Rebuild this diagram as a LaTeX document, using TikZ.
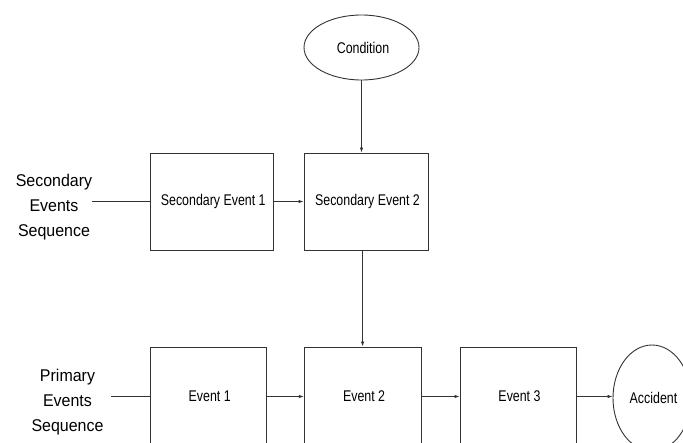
\documentclass[tikz,border=0pt]{standalone}
\usepackage{fontspec}
\usepackage{graphicx}
\setmainfont{Liberation Sans}
\usetikzlibrary{arrows.meta,shapes.geometric}
% horizontally condensed text
\newcommand\sq[1]{\hspace{3pt}\scalebox{0.8}[1]{#1}}
\newcommand\sqw[1]{\scalebox{0.94}[1]{#1}}
\begin{document}
\begin{tikzpicture}[x=1pt,y=-1pt,
  linecol/.style={draw=black!80, line width=0.9pt},
  evbox/.style={linecol, rectangle, inner sep=0pt, font=\fontsize{15.5}{18}\selectfont},
  evoval/.style={linecol, ellipse, inner sep=0pt, font=\fontsize{15.5}{18}\selectfont},
  seqlabel/.style={align=center, inner sep=0pt, font=\fontsize{17}{25}\selectfont},
  link/.style={linecol},
  arrow/.style={linecol, -{Latex[length=5pt,width=3.6pt]}}]
\useasboundingbox (0,0) rectangle (683,443);
\clip (0,0) rectangle (683,443);

% secondary events row
\node[evoval, minimum width=115pt, minimum height=65pt] (cond) at (361.5,47.5) {\sq{Condition}};
\node[evbox, minimum width=123.5pt, minimum height=97pt] (se1) at (211.75,201.5) {\sq{Secondary Event 1}};
\node[evbox, minimum width=124pt, minimum height=97pt] (se2) at (366,201.5) {\sq{Secondary Event 2}};
\node[seqlabel] (seclbl) at (54,207) {\sqw{Secondary}\\\sqw{Events}\\\sqw{Sequence}};
\coordinate (secstart) at (92,201.5);

% primary events row
\node[evbox, minimum width=115.5pt, minimum height=99pt] (ev1) at (208.25,396.5) {\sq{Event 1}};
\node[evbox, minimum width=116.7pt, minimum height=99pt] (ev2) at (362.6,396.5) {\sq{Event 2}};
\node[evbox, minimum width=116pt, minimum height=99pt] (ev3) at (518,396.5) {\sq{Event 3}};
\node[evoval, minimum width=78pt, minimum height=106pt] (acc) at (652,398) {\sq{Accident}};
\node[seqlabel] (prilbl) at (67.5,402) {\sqw{Primary}\\\sqw{Events}\\\sqw{Sequence}};
\coordinate (pristart) at (111,396.5);

% connectors
\draw[link] (secstart) -- (se1.west);
\draw[arrow] (se1) -- (se2);
\draw[arrow] (cond.south) -- (cond.south |- se2.north);
\draw[arrow] (ev2.north |- se2.south) -- (ev2.north);
\draw[link] (pristart) -- (ev1.west);
\draw[arrow] (ev1) -- (ev2);
\draw[arrow] (ev2) -- (ev3);
\draw[arrow] (ev3.east) -- (ev3.east -| acc.west);
\end{tikzpicture}
\end{document}
